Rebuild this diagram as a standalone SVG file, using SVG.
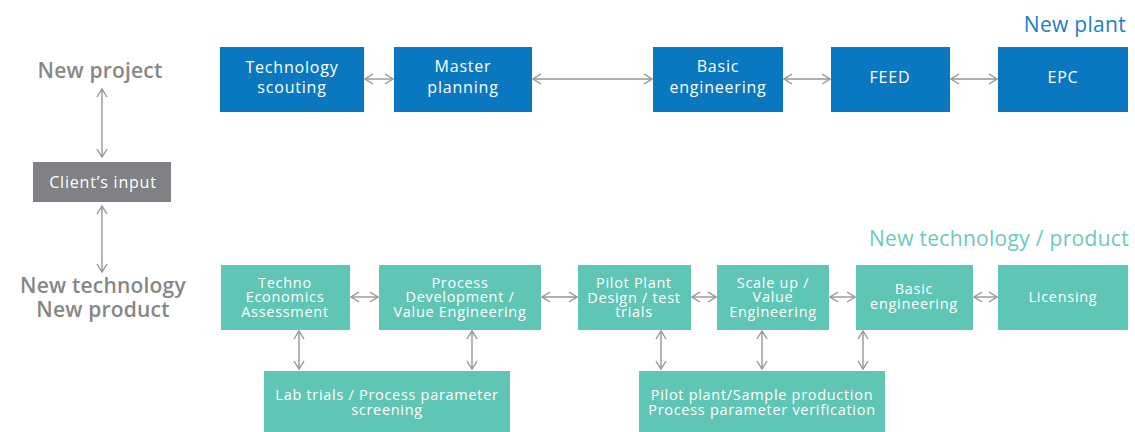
<svg xmlns="http://www.w3.org/2000/svg" width="1135" height="432" viewBox="0 0 1135 432">
<defs>
<marker id="ah" viewBox="0 0 10 12" refX="9" refY="6" markerWidth="10" markerHeight="12" markerUnits="userSpaceOnUse" orient="auto-start-reverse">
<path d="M1,1 L9,6 L1,11" fill="none" stroke="#959595" stroke-width="1.4"/>
</marker>
</defs>
<style>
.blue{fill:#0a77c1}
.teal{fill:#5fc5b5}
.grey{fill:#808184}
.t{font-family:"Open Sans","Liberation Sans",sans-serif;fill:#fff;text-anchor:middle}
.tb{font-size:16px;letter-spacing:0.8px}
.tt{font-size:14.5px;letter-spacing:0.7px}
.lbl{font-family:"Open Sans","Liberation Sans",sans-serif;font-size:21px;font-weight:600;fill:#878787;text-anchor:middle;letter-spacing:0.2px}
.hdr{font-family:"Open Sans","Liberation Sans",sans-serif;font-size:21px;text-anchor:end;letter-spacing:0.3px}
.c{stroke:#959595;stroke-width:1.4;fill:none;marker-start:url(#ah);marker-end:url(#ah)}
</style>
<rect width="1135" height="432" fill="#fff"/>
<text class="hdr" x="1126" y="32" fill="#1a7fc4">New plant</text>
<text class="hdr" x="1129" y="246" fill="#6ccabb">New technology / product</text>
<g id="new-project"><text class="lbl" x="100" y="78">New project</text></g>
<g id="new-tech"><text class="lbl" x="103" y="293">New technology</text><text class="lbl" x="103" y="317">New product</text></g>
<g id="client"><rect class="grey" x="33" y="162" width="138" height="40"/><text class="t tb" x="103" y="188">Client’s input</text></g>
<g id="tech-scouting"><rect class="blue" x="220" y="47" width="144" height="65"/><text class="t tb" x="292" y="73">Technology</text><text class="t tb" x="292" y="93">scouting</text></g>
<g id="master-planning"><rect class="blue" x="394" y="47" width="138" height="65"/><text class="t tb" x="463" y="72">Master</text><text class="t tb" x="463" y="93">planning</text></g>
<g id="basic-eng-top"><rect class="blue" x="653" y="47" width="130" height="65"/><text class="t tb" x="718" y="72">Basic</text><text class="t tb" x="718" y="93">engineering</text></g>
<g id="feed"><rect class="blue" x="831" y="47" width="119" height="65"/><text class="t tb" x="890" y="83">FEED</text></g>
<g id="epc"><rect class="blue" x="998" y="47" width="130" height="65"/><text class="t tb" x="1063" y="83">EPC</text></g>
<g id="tea"><rect class="teal" x="221" y="265" width="129" height="65"/><text class="t tt" x="285" y="288">Techno</text><text class="t tt" x="285" y="302">Economics</text><text class="t tt" x="285" y="317">Assessment</text></g>
<g id="process-dev"><rect class="teal" x="379" y="265" width="162" height="65"/><text class="t tt" x="460" y="288">Process</text><text class="t tt" x="460" y="302">Development /</text><text class="t tt" x="460" y="317">Value Engineering</text></g>
<g id="pilot-design"><rect class="teal" x="578" y="265" width="113" height="65"/><text class="t tt" x="634" y="288">Pilot Plant</text><text class="t tt" x="634" y="303">Design / test</text><text class="t tt" x="634" y="317">trials</text></g>
<g id="scale-up"><rect class="teal" x="717" y="265" width="112" height="65"/><text class="t tt" x="773" y="288">Scale up /</text><text class="t tt" x="773" y="302">Value</text><text class="t tt" x="773" y="317">Engineering</text></g>
<g id="basic-eng-bot"><rect class="teal" x="856" y="265" width="117" height="65"/><text class="t tt" x="914" y="294">Basic</text><text class="t tt" x="914" y="309">engineering</text></g>
<g id="licensing"><rect class="teal" x="998" y="265" width="130" height="65"/><text class="t tt" x="1063" y="302">Licensing</text></g>
<g id="lab-trials"><rect class="teal" x="264" y="371" width="246" height="61"/><text class="t tt" x="387" y="400">Lab trials / Process parameter</text><text class="t tt" x="387" y="415">screening</text></g>
<g id="pilot-prod"><rect class="teal" x="639" y="371" width="246" height="61"/><text class="t tt" x="762" y="400">Pilot plant/Sample production</text><text class="t tt" x="762" y="415">Process parameter verification</text></g>
<g id="connectors">
<line class="c" x1="102" y1="89" x2="102" y2="157"/>
<line class="c" x1="102" y1="206" x2="102" y2="272"/>
<line class="c" x1="365" y1="79" x2="393" y2="79"/>
<line class="c" x1="533" y1="79" x2="652" y2="79"/>
<line class="c" x1="784" y1="79" x2="830" y2="79"/>
<line class="c" x1="951" y1="79" x2="997" y2="79"/>
<line class="c" x1="351" y1="297" x2="378" y2="297"/>
<line class="c" x1="542" y1="297" x2="577" y2="297"/>
<line class="c" x1="692" y1="297" x2="716" y2="297"/>
<line class="c" x1="830" y1="297" x2="855" y2="297"/>
<line class="c" x1="974" y1="297" x2="997" y2="297"/>
<line class="c" x1="299" y1="331" x2="299" y2="369"/>
<line class="c" x1="472" y1="331" x2="472" y2="369"/>
<line class="c" x1="661" y1="331" x2="661" y2="369"/>
<line class="c" x1="762" y1="331" x2="762" y2="369"/>
<line class="c" x1="863" y1="331" x2="863" y2="369"/>
</g>
</svg>
